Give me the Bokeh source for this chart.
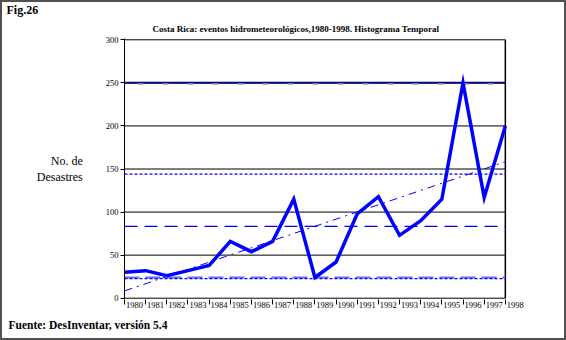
import numpy as np
from bokeh.plotting import figure
from bokeh.models import FixedTicker, Range1d, Title
from bokeh.embed import file_html
from bokeh.resources import INLINE

years = list(range(1980, 1999))
disasters = [30, 32, 26, 32, 38, 66, 54, 66, 115, 24, 42, 98, 118, 73, 90, 115, 250, 117, 200]
grid_levels = [50, 100, 150, 200, 250, 300]
y_ticks = [0, 50, 100, 150, 200, 250, 300]
y_tick_labels = ["0", "50", "100", "150", "200", "250", "300"]
title_text = "Costa Rica: eventos hidrometeorológicos,1980-1998. Histograma Temporal"

vals = np.array(disasters, dtype=float)
mean_v = vals.mean()
std_v = vals.std(ddof=1)
max_v = vals.max()
min_v = vals.min()
slope, intercept = np.polyfit(np.array(years, dtype=float), vals, 1)

x0, x1 = years[0], years[-1]

p = figure(width=566, height=340, output_backend="svg", toolbar_location=None,
           x_range=Range1d(1980, 1999), y_range=Range1d(-1.5, 301.5),
           min_border_left=124, min_border_right=40, min_border_top=35, min_border_bottom=41)
p.outline_line_color = None
p.xgrid.visible = False
p.ygrid.visible = False
p.background_fill_color = "white"
p.border_fill_color = None
p.styles = {"box-shadow": "inset 0 0 0 2px #505050", "background-color": "white"}

# titles: outer "Fig.26", inner chart title
p.title.text = "Fig.26"
p.title.align = "left"
p.title.offset = -118
p.title.standoff = 0
p.title.text_font = "Liberation Serif"
p.title.text_font_style = "bold"
p.title.text_font_size = "12px"
p.title.text_color = "black"
p.add_layout(Title(text=title_text, align="left", offset=28, standoff=10,
                   text_font="Liberation Sans Narrow", text_font_style="bold", text_font_size="9px",
                   text_color="black"), "above")
p.add_layout(Title(text="Fuente: DesInventar, versión 5.4", align="left", offset=-116, standoff=13,
                   text_font="Liberation Serif", text_font_style="bold", text_font_size="11.5px",
                   text_color="black"), "below")

# axes
p.yaxis.ticker = FixedTicker(ticks=y_ticks)
p.yaxis.major_label_overrides = {t: l for t, l in zip(y_ticks, y_tick_labels)}
p.yaxis.major_tick_out = 4
p.yaxis.major_tick_in = 0
p.yaxis.major_tick_line_color = "black"
p.yaxis.minor_tick_line_color = None
p.yaxis.axis_line_color = "black"
p.yaxis.major_label_text_font = "Liberation Sans Narrow"
p.yaxis.major_label_text_font_size = "8.5px"
p.yaxis.major_label_text_color = "black"
p.yaxis.major_label_standoff = 2
p.yaxis.axis_label = "No. de\nDesastres"
p.yaxis.axis_label_orientation = "horizontal"
p.yaxis.axis_label_text_font = "Liberation Serif"
p.yaxis.axis_label_text_font_style = "normal"
p.yaxis.axis_label_text_font_size = "12px"
p.yaxis.axis_label_text_color = "black"
p.yaxis.axis_label_text_align = "center"
p.yaxis.axis_label_standoff = 20

p.xaxis.ticker = FixedTicker(ticks=[y + 0.47 for y in years], minor_ticks=years)
p.xaxis.major_label_overrides = {y + 0.47: str(y) for y in years}
p.xaxis.major_tick_out = 0
p.xaxis.major_tick_in = 0
p.xaxis.minor_tick_out = 5
p.xaxis.minor_tick_in = 0
p.xaxis.minor_tick_line_color = "black"
p.xaxis.axis_line_color = None
p.xaxis.major_label_text_font = "Liberation Sans Narrow"
p.xaxis.major_label_text_font_size = "8.5px"
p.xaxis.major_label_text_color = "black"
p.xaxis.major_label_standoff = -3

# grid / frame lines
p.segment(x0=[x0] * len(grid_levels), y0=grid_levels, x1=[x1] * len(grid_levels), y1=grid_levels,
          line_color="black", line_width=1)
p.segment(x0=[x0], y0=[0], x1=[x1], y1=[0], line_color="black", line_width=1)
p.segment(x0=[x1], y0=[0], x1=[x1], y1=[300], line_color="black", line_width=1.5)

# statistics lines
p.segment(x0=[x0], y0=[max_v], x1=[x1], y1=[max_v], line_color="#000080", line_width=2)
p.segment(x0=[x0], y0=[max_v - 1.2], x1=[x1], y1=[max_v - 1.2], line_color="#a0a0a0", line_width=1.5,
          line_dash="6 19", line_dash_offset=-13)
p.segment(x0=[x0], y0=[mean_v + std_v], x1=[x1], y1=[mean_v + std_v], line_color="#0000ff",
          line_width=1.3, line_dash="3 2")
p.segment(x0=[x0], y0=[mean_v], x1=[x1], y1=[mean_v], line_color="#0000ff",
          line_width=1.2, line_dash="13 7")
p.segment(x0=[x0], y0=[min_v], x1=[x1], y1=[min_v], line_color="#6a6aff",
          line_width=2, line_dash="15 6")
p.segment(x0=[x0], y0=[mean_v - std_v], x1=[x1], y1=[mean_v - std_v], line_color="#0000ff",
          line_width=1.2, line_dash="3 2")

# trend line
p.line([x0, x1], [intercept + slope * x0, intercept + slope * x1], line_color="#0000ff",
       line_width=1, line_dash="8 5 2 5")

# main series
p.line(years, disasters, line_color="#0000ff", line_width=3.5, line_join="miter")

open("out.html", "w").write(file_html(p, INLINE))
